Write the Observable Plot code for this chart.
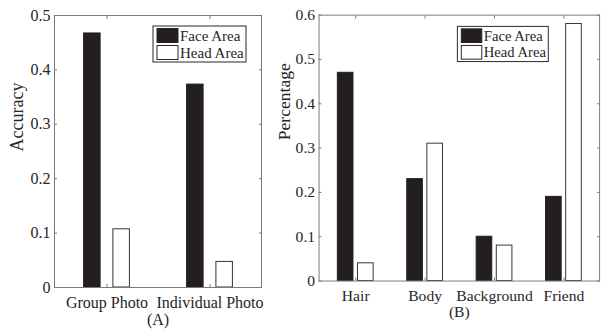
<!DOCTYPE html>
<html><head><meta charset="utf-8">
<script src="https://cdn.jsdelivr.net/npm/d3@7"></script>
<script src="https://cdn.jsdelivr.net/npm/@observablehq/plot@0.6"></script>
<style>
html,body{margin:0;padding:0;background:#fff;overflow:hidden;}
#wrap{position:relative;width:604px;height:329px;overflow:hidden;}
.panel{position:absolute;top:0;}
</style></head><body><div id="wrap"><div id="pa" class="panel" style="left:0"></div><div id="pb" class="panel" style="left:256px"></div></div>
<script>
const seriesNames = ["Face Area", "Head Area"];
const photoTypes = ["Group Photo", "Individual Photo"];
const accuracyFace = [0.467, 0.373];
const accuracyHead = [0.107, 0.047];
const accuracyTicks = [0, 0.1, 0.2, 0.3, 0.4, 0.5];
const regions = ["Hair", "Body", "Background", "Friend"];
const percentFace = [0.47, 0.23, 0.10, 0.19];
const percentHead = [0.04, 0.31, 0.08, 0.58];
const percentTicks = [0, 0.1, 0.2, 0.3, 0.4, 0.5, 0.6];

const AX = "#7a7a7a", TXT = "#262626", DARK = "#231f20";
const fmt = d => String(+d.toFixed(1));

function panel(o) {
  const faceData = o.cats.map((c, i) => ({cat: c, value: o.face[i]}));
  const headData = o.cats.map((c, i) => ({cat: c, value: o.head[i]}));
  const svg = Plot.plot({
    width: o.width, height: 329,
    marginLeft: o.marginLeft, marginRight: o.marginRight, marginTop: 15, marginBottom: 42,
    style: {fontFamily: "'Liberation Serif', serif", fontSize: "16px", color: TXT, background: "transparent", overflow: "visible"},
    x: {domain: o.cats, padding: 0, label: null},
    y: {domain: [0, o.ticks[o.ticks.length - 1]], label: null},
    marks: [
      Plot.barY(faceData, {x: "cat", y: "value", fill: DARK, stroke: DARK, strokeWidth: 1, insetLeft: o.faceInset[0], insetRight: o.faceInset[1]}),
      Plot.barY(headData, {x: "cat", y: "value", fill: "white", stroke: "#333", strokeWidth: 1, insetLeft: o.headInset[0], insetRight: o.headInset[1]}),
      Plot.frame({stroke: AX, strokeWidth: 1}),
      Plot.axisY(o.ticks, {anchor: "left", tickSize: -3, tickPadding: 7, stroke: AX, fill: TXT, fontSize: 16, tickFormat: fmt, label: null}),
      Plot.axisY(o.ticks, {anchor: "right", tickSize: -3, stroke: AX, tickFormat: () => "", label: null}),
      Plot.axisX({anchor: "bottom", tickSize: -3, tickPadding: 12, stroke: AX, fill: TXT, fontSize: 16, label: null}),
      Plot.axisX({anchor: "top", tickSize: -3, stroke: AX, tickFormat: () => "", label: null}),
      Plot.text([o.ylabel], {frameAnchor: "left", rotate: -90, dx: o.ylabelDx, dy: o.ylabelDy, fontSize: 18, fill: TXT}),
      Plot.text([o.caption], {frameAnchor: "bottom", dy: 37, fontSize: 16, fill: TXT})
    ]
  });
  addLegend(svg, o.legend[0], o.legend[1]);
  return svg;
}

function addLegend(svg, x, y) {
  const g = d3.select(svg).append("g")
    .attr("font-family", "'Liberation Serif', serif").attr("font-size", 15).attr("text-anchor", "start");
  g.append("rect").attr("x", x).attr("y", y).attr("width", 93).attr("height", 36)
    .attr("fill", "white").attr("stroke", TXT).attr("stroke-width", 1);
  seriesNames.forEach((name, i) => {
    g.append("rect").attr("x", x + 4).attr("y", y + 2.5 + i * 17).attr("width", 21).attr("height", 14)
      .attr("fill", i ? "white" : DARK).attr("stroke", TXT).attr("stroke-width", 1);
    g.append("text").attr("x", x + 27).attr("y", y + 9.5 + i * 17).attr("dy", "0.35em")
      .attr("text-anchor", "start").attr("fill", TXT).text(name);
  });
}

document.getElementById("pa").appendChild(panel({
  cats: photoTypes, face: accuracyFace, head: accuracyHead, ticks: accuracyTicks,
  ylabel: "Accuracy", caption: "(A)", width: 300, marginLeft: 54, marginRight: 39,
  faceInset: [28.6, 57.9], headInset: [57.9, 28.6], ylabelDx: -37, ylabelDy: 0, legend: [153, 26]
}));
document.getElementById("pb").appendChild(panel({
  cats: regions, face: percentFace, head: percentHead, ticks: percentTicks,
  ylabel: "Percentage", caption: "(B)", width: 356, marginLeft: 64, marginRight: 5,
  faceInset: [17.2, 37.8], headInset: [37.8, 17.2], ylabelDx: -35, ylabelDy: -8, legend: [462 - 256, 27]
}));
</script></body></html>
